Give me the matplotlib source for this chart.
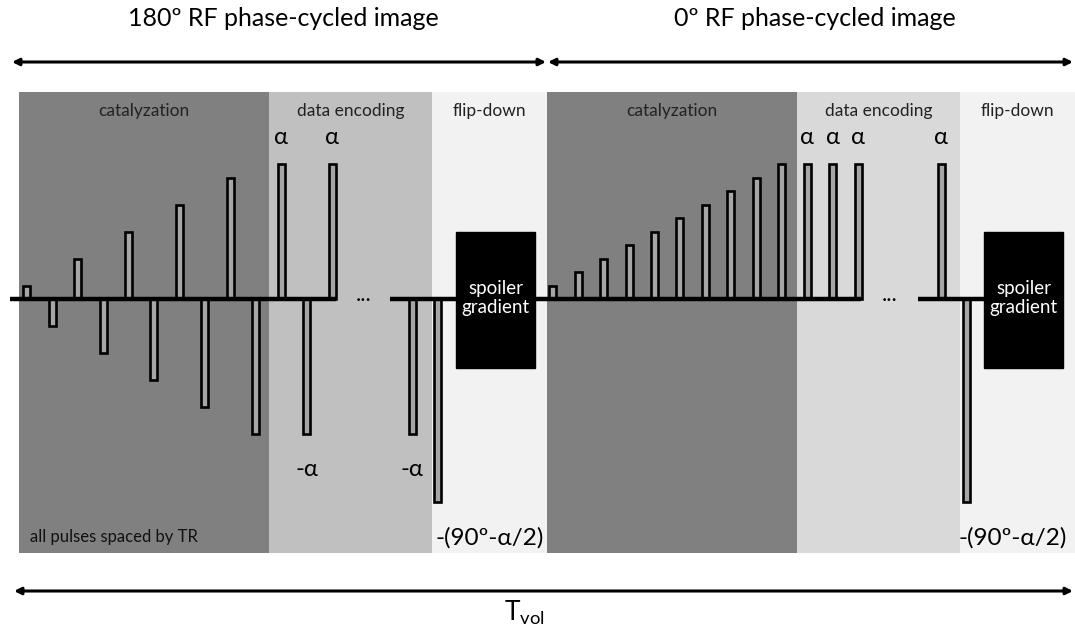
import matplotlib
matplotlib.use("Agg")
import matplotlib.pyplot as plt
from matplotlib.patches import Rectangle

plt.rcParams['font.family'] = ['Lato', 'Open Sans', 'DejaVu Sans']
plt.rcParams['mathtext.fontset'] = 'custom'
plt.rcParams['mathtext.rm'] = 'Lato'

# pulse amplitudes in units of alpha/10 (alpha = 10)
cat_180 = [1, -2, 3, -4, 5, -6, 7, -8, 9, -10]
enc_180 = [10, -10, 10]
last_180 = [-10]
cat_0 = [1, 2, 3, 4, 5, 6, 7, 8, 9, 10]
enc_0 = [10, 10, 10]
last_0 = [10]
flip_amp = -15

segments = ['catalyzation', 'data encoding', 'flip-down']
seg_colors_180 = ['#808080', '#c0c0c0', '#f2f2f2']
seg_colors_0 = ['#808080', '#d9d9d9', '#f2f2f2']
titles = ['180º RF phase-cycled image', '0º RF phase-cycled image']

fig = plt.figure(figsize=(10.75, 6.35), dpi=100)
ax = fig.add_axes([0, 0, 1, 1])
ax.set_xlim(0, 1075)
ax.set_ylim(635, 0)
ax.axis('off')

y0 = 299      # baseline
unit = 13.5   # px per amplitude unit
TR = 25.45
pw = 7

# background blocks
edges = [19, 269, 432, 547, 797, 960, 1075]
cols = seg_colors_180 + seg_colors_0
for i in range(6):
    ax.add_patch(Rectangle((edges[i], 92), edges[i + 1] - edges[i], 461,
                           facecolor=cols[i], edgecolor='none', zorder=0))
    ax.text((edges[i] + edges[i + 1]) / 2, 111, segments[i % 3],
            ha='center', va='center', fontsize=12.5, color='#222222')


def pulse(x, a):
    ax.add_patch(Rectangle((x - pw / 2, y0), pw, -a * unit, facecolor='#a6a6a6',
                           edgecolor='black', lw=1.9, zorder=3))


# baseline pieces
for xa, xb in [(10, 336), (390, 458), (533, 861), (918, 986)]:
    ax.plot([xa, xb], [y0, y0], color='black', lw=3.2, solid_capstyle='butt', zorder=4)

halves = [(26.7, 412, cat_180 + enc_180, last_180), (552.7, 941, cat_0 + enc_0, last_0)]
for x0, xr, amps, last in halves:
    for k, a in enumerate(amps):
        x = x0 + k * TR
        pulse(x, a)
        if k >= len(cat_0):
            lab = 'α' if a > 0 else '-α'
            ax.text(x, 137 if a > 0 else 469, lab, ha='center', va='center', fontsize=17)
    for k, a in enumerate(last):
        x = xr + k * TR
        pulse(x, a)
        ax.text(x, 137 if a > 0 else 469, 'α' if a > 0 else '-α',
                ha='center', va='center', fontsize=17)
    pulse(xr + len(last) * TR, flip_amp)
    ax.text(x0 + (len(amps) - 1) * TR + 32, y0 - 4, '...', ha='center',
            va='center', fontsize=16)

# flip-down labels and spoiler boxes
for xc, bx in [(490, 456), (1013, 984)]:
    ax.text(xc, 538, '-(90º-α/2)', ha='center', va='center', fontsize=17.5)
    ax.add_patch(Rectangle((bx, 232), 79, 136, facecolor='black', edgecolor='black',
                           zorder=5))
    ax.text(bx + 39.5, 298, 'spoiler\ngradient', ha='center', va='center',
            color='white', fontsize=13.5, linespacing=1.2, zorder=6)

ax.text(30, 537, 'all pulses spaced by TR', ha='left', va='center', fontsize=12,
        color='#111111')

# titles and arrows
for (xa, xb), t in zip([(12, 546), (548, 1073)], titles):
    ax.annotate('', xy=(xa, 62), xytext=(xb, 62),
                arrowprops=dict(arrowstyle='<|-|>', lw=2.2, color='black',
                                mutation_scale=10, shrinkA=0, shrinkB=0))
    ax.text((xa + xb) / 2 + 4, 19, t, ha='center', va='center', fontsize=18)

ax.annotate('', xy=(14, 591), xytext=(1073, 591),
            arrowprops=dict(arrowstyle='<|-|>', lw=2.2, color='black',
                            mutation_scale=10, shrinkA=0, shrinkB=0))
ax.text(524, 613, r'T$_{\mathrm{vol}}$', ha='center', va='center', fontsize=19)

fig.savefig('out.png', dpi=100)
